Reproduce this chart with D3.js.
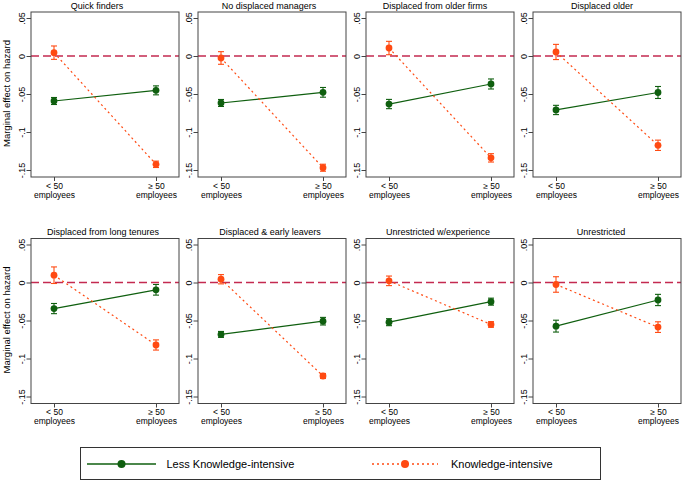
<!DOCTYPE html>
<html>
<head>
<meta charset="utf-8">
<script src="https://cdn.jsdelivr.net/npm/d3@7/dist/d3.min.js"></script>
<style>
  html, body { margin: 0; padding: 0; background: #fff; }
  svg text { font-family: "Liberation Sans", Arial, Helvetica, sans-serif; fill: #000; }
</style>
</head>
<body>
<svg id="chart" width="685" height="481"></svg>
<script>
// ---------- data ----------
const panelTitles = [
  "Quick finders", "No displaced managers", "Displaced from older firms", "Displaced older",
  "Displaced from long tenures", "Displaced & early leavers", "Unrestricted w/experience", "Unrestricted"
];
const categories = ["lt50", "ge50"];
const categoryLabels = [["< 50", "employees"], ["\u2265 50", "employees"]];
const yTicks = [0.05, 0, -0.05, -0.1, -0.15];
const yTickLabels = [".05", "0", "-.05", "-.1", "-.15"];
const seriesNames = ["Less Knowledge-intensive", "Knowledge-intensive"];

// Less knowledge-intensive: [<50, >=50] per panel, and CI half-widths
const lessKI = [
  [-0.0592, -0.0452], [-0.0618, -0.0478], [-0.0632, -0.0368], [-0.0710, -0.0480],
  [-0.0343, -0.0096], [-0.0683, -0.0509], [-0.0522, -0.0252], [-0.0574, -0.0230]
];
const lessKIci = [
  [0.0046, 0.0059], [0.0046, 0.0064], [0.0061, 0.0066], [0.0061, 0.0079],
  [0.0067, 0.0070], [0.0039, 0.0050], [0.0046, 0.0046], [0.0078, 0.0074]
];
// Knowledge-intensive
const moreKI = [
  [0.0044, -0.1425], [-0.0026, -0.1470], [0.0105, -0.1340], [0.0053, -0.1175],
  [0.0096, -0.0822], [0.0043, -0.1230], [0.0022, -0.0552], [-0.0026, -0.0587]
];
const moreKIci = [
  [0.0088, 0.0042], [0.0083, 0.0046], [0.0088, 0.0055], [0.0100, 0.0068],
  [0.0109, 0.0067], [0.0061, 0.0033], [0.0063, 0.0037], [0.0102, 0.0070]
];

// ---------- layout ----------
const colLefts = [31, 198, 366, 533];
const rowTops = [12, 238.5];
const titleShift = [-8, -3, -5, -5, -2, -2, -2, -6];
const boxW = 148, boxH = 165;
const greenC = "#0f5f0f", orangeC = "#ff4a12", zeroC = "#c42a50", boxC = "#444";

const svg = d3.select("#chart");
const x = d3.scalePoint().domain(categories).range([0, boxW]).padding(0.2255);
const y = d3.scaleLinear().domain([-0.1592, 0.0579]).range([boxH, 0]);

const series = [
  { vals: lessKI, ci: lessKIci, color: greenC, dash: null },
  { vals: moreKI, ci: moreKIci, color: orangeC, dash: "2,3" }
];

panelTitles.forEach((title, i) => {
  const col = i % 4, row = Math.floor(i / 4);
  const g = svg.append("g").attr("transform", `translate(${colLefts[col]},${rowTops[row]})`);

  // title
  g.append("text").attr("x", boxW / 2 + titleShift[i]).attr("y", -3.5)
    .attr("text-anchor", "middle").style("font-size", "9px").text(title);

  // y axis
  const ya = g.append("g").call(d3.axisLeft(y).tickValues(yTicks)
    .tickFormat((d, k) => yTickLabels[k]).tickSize(4.5).tickSizeOuter(0));
  ya.select(".domain").remove();
  ya.selectAll("line").attr("stroke", boxC);
  ya.selectAll("text").attr("transform", "rotate(-90)").attr("x", 0).attr("y", -6.5)
    .attr("dy", 0).attr("text-anchor", "middle").style("font-size", "9px").attr("fill", "#000");

  // x axis
  const xa = g.append("g").attr("transform", `translate(0,${boxH})`)
    .call(d3.axisBottom(x).tickSize(4).tickSizeOuter(0));
  xa.select(".domain").remove();
  xa.selectAll("line").attr("stroke", boxC);
  xa.selectAll("text").each(function(d, k) {
    const t = d3.select(this).text(null).attr("y", 0).attr("dy", 0).style("font-size", "8.5px").attr("fill", "#000");
    t.append("tspan").attr("x", 0).attr("y", 11.8).text(categoryLabels[k][0]);
    t.append("tspan").attr("x", 0).attr("y", 20.5).text(categoryLabels[k][1]);
  });

  // y title on first column
  if (col === 0) {
    svg.append("text")
      .attr("transform", `translate(${9.5},${rowTops[row] + boxH / 2 - 1}) rotate(-90)`)
      .attr("text-anchor", "middle").style("font-size", "9.5px").text("Marginal effect on hazard");
  }

  // zero line
  g.append("line").attr("x1", 0).attr("x2", boxW).attr("y1", y(0)).attr("y2", y(0))
    .attr("stroke", zeroC).attr("stroke-width", 1.3).attr("stroke-dasharray", "8,4");

  // series
  series.forEach(s => {
    const pts = categories.map((c, k) => ({ c, v: s.vals[i][k], h: s.ci[i][k] }));
    g.append("path").datum(pts)
      .attr("d", d3.line().x(d => x(d.c)).y(d => y(d.v)))
      .attr("fill", "none").attr("stroke", s.color).attr("stroke-width", 1.2)
      .attr("stroke-dasharray", s.dash);
    pts.forEach(d => {
      const cx = x(d.c);
      g.append("line").attr("x1", cx).attr("x2", cx).attr("y1", y(d.v - d.h)).attr("y2", y(d.v + d.h))
        .attr("stroke", s.color).attr("stroke-width", 1.1);
      [d.v - d.h, d.v + d.h].forEach(e => {
        g.append("line").attr("x1", cx - 3).attr("x2", cx + 3).attr("y1", y(e)).attr("y2", y(e))
          .attr("stroke", s.color).attr("stroke-width", 1.1);
      });
      g.append("circle").attr("cx", cx).attr("cy", y(d.v)).attr("r", 3.4).attr("fill", s.color);
    });
  });

  // box
  g.append("rect").attr("x", 0).attr("y", 0).attr("width", boxW).attr("height", boxH)
    .attr("fill", "none").attr("stroke", boxC).attr("stroke-width", 1);
});

// ---------- legend ----------
const lg = svg.append("g");
lg.append("rect").attr("x", 80.5).attr("y", 447.5).attr("width", 520).attr("height", 32)
  .attr("fill", "#fff").attr("stroke", "#333").attr("stroke-width", 1);
const legendItems = [
  { x1: 87, x2: 156, text: 166.5, color: greenC, dash: null },
  { x1: 372, x2: 438, text: 451, color: orangeC, dash: "2,3" }
];
legendItems.forEach((it, k) => {
  lg.append("line").attr("x1", it.x1).attr("x2", it.x2).attr("y1", 464).attr("y2", 464)
    .attr("stroke", it.color).attr("stroke-width", 1.3).attr("stroke-dasharray", it.dash);
  lg.append("circle").attr("cx", (it.x1 + it.x2) / 2).attr("cy", 464).attr("r", 4).attr("fill", it.color);
  lg.append("text").attr("x", it.text).attr("y", 468).style("font-size", "11px").text(seriesNames[k]);
});
</script>
</body>
</html>
